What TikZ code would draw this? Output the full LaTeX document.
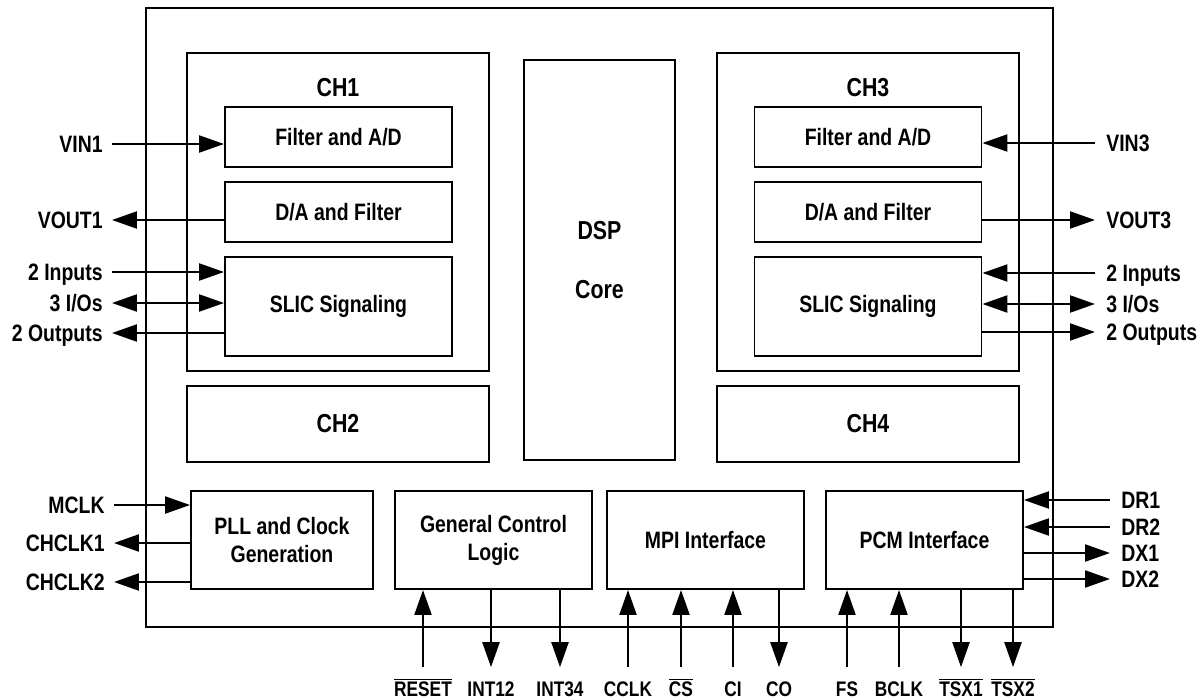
\documentclass[tikz,border=0pt]{standalone}
\usepackage{fontspec}
\setmainfont{Liberation Sans}[FakeStretch=0.82]
\usetikzlibrary{arrows.meta}
\newcommand{\ovl}[1]{$\overline{\mbox{#1}}$}

\begin{document}
\begin{tikzpicture}[x=0.02cm, y=-0.02cm, >={Triangle[length=0.5cm,width=0.34cm]},
  blk/.style 2 args={draw, line width=1.1pt, minimum width=#1*0.02cm, minimum height=#2*0.02cm, inner sep=0pt, align=center, font=\fontsize{13.5}{16}\selectfont\bfseries},
  chtxt/.style={font=\fontsize{14.8}{18}\selectfont\bfseries},
  lpin/.style={anchor=east, inner xsep=0.18cm, inner ysep=0pt, text height=0.34cm, text depth=0pt, font=\fontsize{13.5}{16}\selectfont\bfseries},
  rpin/.style={lpin, anchor=west, inner xsep=0.22cm},
  bpin/.style={inner xsep=0pt, inner ysep=0.28cm, text height=0.3cm, text depth=0pt, font=\fontsize{12}{14}\selectfont\bfseries},
  sig/.style={line width=1.3pt}]
\useasboundingbox (0,0) rectangle (1201,700);
\node [blk={907}{619}] (chip) at (599.5,317.5) {};

\node [blk={302}{318}] (ch1) at (338,212) {};
\node [chtxt] (ch1t) at (338,88) {CH1};
\node [blk={227}{60}] (fad1) at (338.5,137) {Filter and A/D};
\node [blk={227}{60}] (daf1) at (338.5,212) {D/A and Filter};
\node [blk={227}{99}] (slic1) at (338.5,306.5) {SLIC Signaling};
\node [blk={302}{76}, chtxt] (ch2) at (338,424) {CH2};

\node [blk={151}{400}, font=\fontsize{14.8}{33.6}\selectfont\bfseries] (dsp) at (599.5,260) {DSP\\Core};

\node [blk={302}{318}] (ch3) at (868,212) {};
\node [chtxt] (ch3t) at (868,88) {CH3};
\node [blk={227}{60}] (fad3) at (868,137) {Filter and A/D};
\node [blk={227}{60}] (daf3) at (868,212) {D/A and Filter};
\node [blk={227}{99}] (slic3) at (868,306.5) {SLIC Signaling};
\node [blk={302}{76}, chtxt] (ch4) at (868,424) {CH4};

\node [blk={182}{98}] (pll) at (282,540) {PLL and Clock\\Generation};
\node [blk={197}{98}] (gcl) at (493.5,540) {General Control\\Logic};
\node [blk={197}{98}] (mpi) at (705.5,540) {MPI Interface};
\node [blk={197}{98}] (pcm) at (924.5,540) {PCM Interface};

\node [lpin] (vin1) at (112,144) {VIN1};
\node [lpin] (vout1) at (112,220) {VOUT1};
\node [lpin] (inp1) at (112,272) {2 Inputs};
\node [lpin] (io1) at (112,303) {3 I/Os};
\node [lpin] (out1) at (112,333) {2 Outputs};
\draw [sig,->] (vin1) -- (vin1 -| fad1.west);
\draw [sig,->] (vout1 -| daf1.west) -- (vout1);
\draw [sig,->] (inp1) -- (inp1 -| slic1.west);
\draw [sig,<->] (io1) -- (io1 -| slic1.west);
\draw [sig,->] (out1 -| slic1.west) -- (out1);

\node [rpin] (vin3) at (1095,143) {VIN3};
\node [rpin] (vout3) at (1095,220) {VOUT3};
\node [rpin] (inp3) at (1095,273) {2 Inputs};
\node [rpin] (io3) at (1095,304) {3 I/Os};
\node [rpin] (out3) at (1095,332) {2 Outputs};
\draw [sig,->] (vin3) -- (vin3 -| fad3.east);
\draw [sig,->] (vout3 -| daf3.east) -- (vout3);
\draw [sig,->] (inp3) -- (inp3 -| slic3.east);
\draw [sig,<->] (io3) -- (io3 -| slic3.east);
\draw [sig,->] (out3 -| slic3.east) -- (out3);

\node [lpin] (mclk) at (114,505) {MCLK};
\node [lpin] (chclk1) at (114,543) {CHCLK1};
\node [lpin] (chclk2) at (114,582) {CHCLK2};
\draw [sig,->] (mclk) -- (mclk -| pll.west);
\draw [sig,->] (chclk1 -| pll.west) -- (chclk1);
\draw [sig,->] (chclk2 -| pll.west) -- (chclk2);

\node [rpin] (dr1) at (1110,500) {DR1};
\node [rpin] (dr2) at (1110,527) {DR2};
\node [rpin] (dx1) at (1110,553) {DX1};
\node [rpin] (dx2) at (1110,579) {DX2};
\draw [sig,->] (dr1) -- (dr1 -| pcm.east);
\draw [sig,->] (dr2) -- (dr2 -| pcm.east);
\draw [sig,->] (dx1 -| pcm.east) -- (dx1);
\draw [sig,->] (dx2 -| pcm.east) -- (dx2);

\node [bpin] (rst) at (423,689) {\ovl{RESET}};
\node [bpin] (int12) at (491,689) {INT12};
\node [bpin] (int34) at (560,689) {INT34};
\draw [sig,->] (rst) -- (rst |- gcl.south);
\draw [sig,->] (int12 |- gcl.south) -- (int12);
\draw [sig,->] (int34 |- gcl.south) -- (int34);

\node [bpin] (cclk) at (628,689) {CCLK};
\node [bpin] (cs) at (681,689) {\ovl{CS}};
\node [bpin] (ci) at (733,689) {CI};
\node [bpin] (co) at (779,689) {CO};
\draw [sig,->] (cclk) -- (cclk |- mpi.south);
\draw [sig,->] (cs) -- (cs |- mpi.south);
\draw [sig,->] (ci) -- (ci |- mpi.south);
\draw [sig,->] (co |- mpi.south) -- (co);

\node [bpin] (fs) at (847,689) {FS};
\node [bpin] (bclk) at (899,689) {BCLK};
\node [bpin] (tsx1) at (961,689) {\ovl{TSX1}};
\node [bpin] (tsx2) at (1013,689) {\ovl{TSX2}};
\draw [sig,->] (fs) -- (fs |- pcm.south);
\draw [sig,->] (bclk) -- (bclk |- pcm.south);
\draw [sig,->] (tsx1 |- pcm.south) -- (tsx1);
\draw [sig,->] (tsx2 |- pcm.south) -- (tsx2);
\end{tikzpicture}
\end{document}
